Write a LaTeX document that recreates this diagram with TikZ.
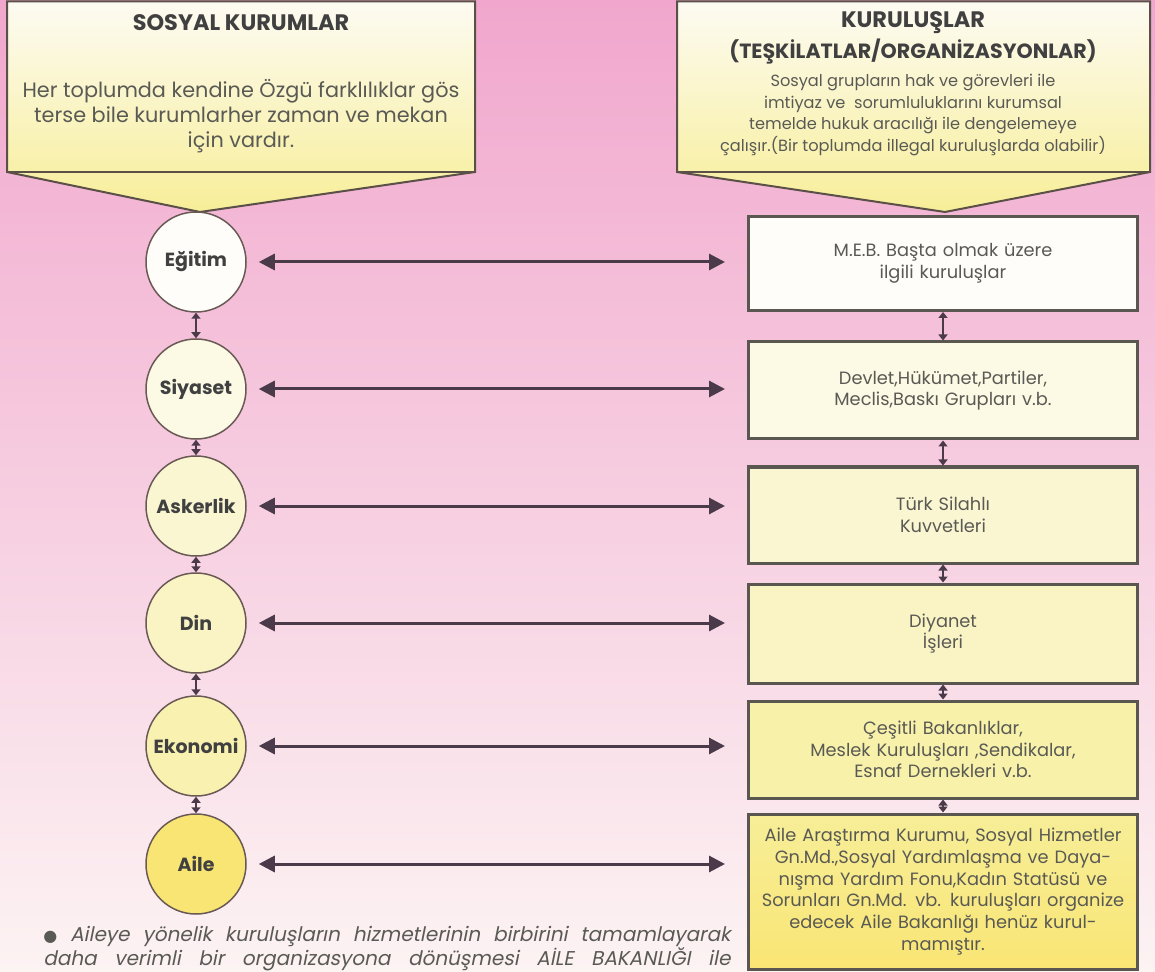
\documentclass[tikz,border=0pt]{standalone}
\usepackage{fontspec}
\setmainfont{Poppins}
\newfontfamily\slantfont{Poppins}[FakeSlant=0.2]
\newfontfamily\symfont{DejaVu Sans}
\usetikzlibrary{arrows.meta}
\usetikzlibrary{positioning}

\definecolor{pinktop}{HTML}{F1A7CD}
\definecolor{pinkmid}{HTML}{F5C8DD}
\definecolor{pinkbot}{HTML}{FCF3F3}
\definecolor{calltop}{HTML}{FDFBF2}
\definecolor{callbot}{HTML}{F7EE98}
\definecolor{callline}{HTML}{5A5048}
\definecolor{boxline}{HTML}{5A5650}
\definecolor{circline}{HTML}{6A5A55}
\definecolor{arrowcol}{HTML}{4B3B4A}
\definecolor{titletext}{HTML}{404040}
\definecolor{bodytext}{HTML}{5A5A55}

\newcommand{\noteline}[1]{\makebox[343.5pt][s]{#1}}

\tikzset{
	inst/.style={circle, draw=circline, line width=0.75pt, minimum size=50pt, inner sep=0pt,
		text=titletext, font=\bfseries\fontsize{9.5}{11}\selectfont},
	org/.style={rectangle, draw=boxline, line width=1.5pt, minimum width=194.5pt, text width=188pt,
		inner sep=0pt, align=center, text=bodytext, font=\fontsize{8.9}{10.85}\selectfont},
	heading/.style={inner sep=0pt, text=titletext, font=\bfseries\fontsize{11.2}{13}\selectfont},
	calltext/.style={inner sep=0pt, align=center, text=bodytext},
	link/.style={draw=arrowcol, line width=1.5pt,
		{Triangle[length=8pt,width=8pt]}-{Triangle[length=8pt,width=8pt]}},
	updown/.style={draw=arrowcol, line width=0.8pt,
		{Triangle[length=3pt,width=4.5pt]}-{Triangle[length=3pt,width=4.5pt]}},
}

\begin{document}
\begin{tikzpicture}[x=0.5pt,y=-0.5pt]
	\useasboundingbox (0,0) rectangle (1155,972);
	\shade[top color=pinktop, middle color=pinkmid, bottom color=pinkbot] (0,0) rectangle (1155,972);
	% callouts
	\shadedraw[top color=calltop, bottom color=callbot, draw=callline, line width=1pt]
		(7,1.5) -- (475,1.5) -- (475,172) -- (200,212) -- (7,172) -- cycle;
	\draw[callline, line width=1pt] (7,172) -- (475,172);
	\shadedraw[top color=calltop, bottom color=callbot, draw=callline, line width=1pt]
		(677,1.5) -- (1150,1.5) -- (1150,172) -- (945,212) -- (677,172) -- cycle;
	\draw[callline, line width=1pt] (677,172) -- (1150,172);
	\node[heading] (kurumtitle) at (241,23) {SOSYAL KURUMLAR};
	\node[calltext, font=\fontsize{10.4}{12.5}\selectfont] (kurumtext) at (241,116)
		{Her toplumda kendine Özgü farklılıklar gös\\ terse bile kurumlarher zaman ve mekan\\ için vardır.};
	\node[heading] (orgtitle) at (913,23) {KURULUŞLAR};
	\node[heading, font=\bfseries\fontsize{10.3}{12}\selectfont] (orgsub) at (913,52) {(TEŞKİLATLAR/ORGANİZASYONLAR)};
	\node[calltext, font=\fontsize{8.1}{10.9}\selectfont] (orgtext) at (913,115)
		{Sosyal grupların hak ve görevleri ile\\ imtiyaz ve \ sorumluluklarını kurumsal\\ temelde hukuk aracılığı ile dengelemeye\\ çalışır.(Bir toplumda illegal kuruluşlarda olabilir)};
	% kurumlar
	\node[inst, fill=white!60!calltop] (eg) at (196,262) {Eğitim};
	\node[inst, fill=calltop!85!callbot] (sy) at (196,389) {Siyaset};
	\node[inst, fill=calltop!65!callbot] (ask) at (196,506) {Askerlik};
	\node[inst, fill=calltop!50!callbot] (di) at (196,623) {Din};
	\node[inst, fill=calltop!25!callbot] (ek) at (196,746) {Ekonomi};
	\node[inst, fill=callbot!85!yellow!90!orange] (ai) at (196,864) {Aile};
	% kuruluslar
	\node[org, minimum height=47pt, fill=white!60!calltop] (meb) at (943,263.5)
		{M.E.B. Başta olmak üzere\\ ilgili kuruluşlar};
	\node[org, minimum height=48.5pt, fill=calltop!85!callbot] (dev) at (943,390.5)
		{Devlet,Hükümet,Partiler,\\ Meclis,Baskı Grupları v.b.};
	\node[org, minimum height=48pt, fill=calltop!65!callbot] (tsk) at (943,515)
		{Türk Silahlı\\ Kuvvetleri};
	\node[org, minimum height=49.5pt, fill=calltop!50!callbot] (diy) at (943,633.5)
		{Diyanet\\ İşleri};
	\node[org, minimum height=48.5pt, fill=calltop!20!callbot] (bak) at (943,749.5)
		{Çeşitli Bakanlıklar,\\ Meslek Kuruluşları ,Sendikalar,\\ Esnaf Dernekleri v.b.};
	\node[org, minimum height=77.5pt, top color=callbot, bottom color=callbot!85!yellow!90!orange] (aile) at (943,891.5)
		{Aile Araştırma Kurumu, Sosyal Hizmetler\\ Gn.Md.,Sosyal Yardımlaşma ve Daya-\\ nışma Yardım Fonu,Kadın Statüsü ve\\ Sorunları Gn.Md. vb. kuruluşları organize\\ edecek Aile Bakanlığı henüz kurul-\\ mamıştır.};
	% oklar
	\foreach \a/\b in {eg/meb,sy/dev,ask/tsk,di/diy,ek/bak,ai/aile}
		\draw[link, shorten <=6pt, shorten >=11pt] (\a.east) -- (\a.east -| \b.west);
	\foreach \a/\b in {eg/sy,sy/ask,ask/di,di/ek,ek/ai}
		\draw[updown] (\a.south) -- (\b.north);
	\foreach \a/\b in {meb/dev,dev/tsk,tsk/diy,diy/bak,bak/aile}
		\draw[updown] (\a.south) -- (\b.north);
	% dipnot
	\node[anchor=north west, inner sep=0pt, align=left, text=bodytext,
		font=\slantfont\fontsize{10}{12}\selectfont] (note) at (43,926)
		{\noteline{{\symfont\fontsize{8}{12}\selectfont ●} Aileye yönelik kuruluşların hizmetlerinin birbirini tamamlayarak}\\
		\noteline{daha verimli bir organizasyona dönüşmesi AİLE BAKANLIĞI ile}};
\end{tikzpicture}
\end{document}
